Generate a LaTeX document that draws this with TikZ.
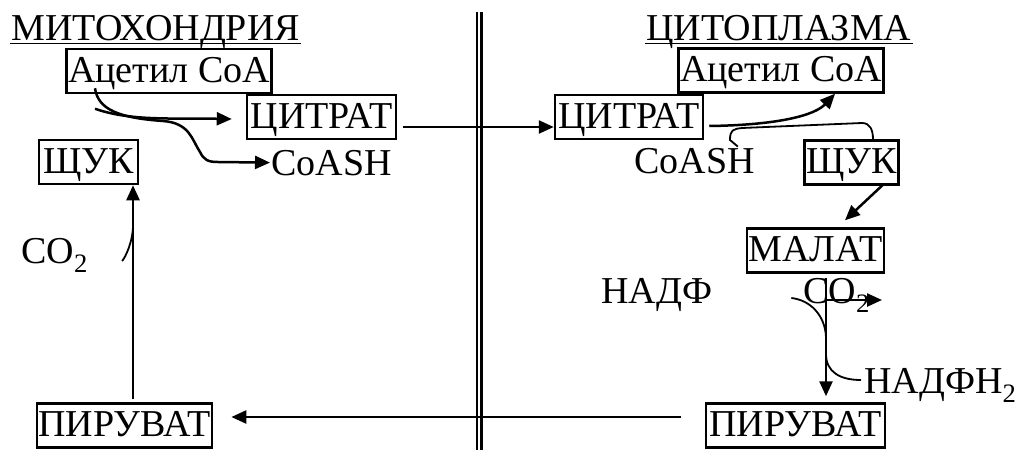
\documentclass[tikz,border=0pt]{standalone}
\usepackage{fontspec}
\setmainfont{Liberation Serif}
\usetikzlibrary{arrows.meta, calc}

\begin{document}
\begin{tikzpicture}[x=1pt, y=-1pt, line width=2.5pt,
        every node/.style={font=\fontsize{38}{44}\selectfont, inner sep=0pt},
        box/.style={draw, inner xsep=1.5pt, inner ysep=2pt, text height=31pt, text depth=9pt},
        lbl/.style={anchor=base west},
        react/.style={-{Triangle[length=15pt, width=13pt]}},
        side/.style={line width=1.8pt}]
\useasboundingbox (0,0) rectangle (1018,450);

% membrane
\draw (477,12) -- (477,450);
\draw (481.5,12) -- (481.5,450);

\node[lbl] (mito) at (10,40) {МИТОХОНДРИЯ};
\node[lbl] (cyto) at (645,40) {ЦИТОПЛАЗМА};
\draw[line width=1.6pt] ($(mito.base west)+(0,3.5)$) -- ($(mito.base east)+(0,3.5)$);
\draw[line width=1.6pt] ($(cyto.base west)+(0,3.5)$) -- ($(cyto.base east)+(0,3.5)$);

% mitochondria
\node[box] (acoaL) at (169,71) {Ацетил CoA};
\node[box, minimum width=149pt] (citL) at (321.5,117) {ЦИТРАТ};
\node[box, minimum width=99pt] (oaaL) at (88.5,162) {ЩУК};
\node[box] (pyrL) at (124.5,425.5) {ПИРУВАТ};
\node[lbl] (coashL) at (270,175) {CoASH};
\node[lbl] (co2L) at (20,263) {CO\textsubscript{2}};

% cytoplasm
\node[box] (acoaR) at (781,70.5) {Ацетил CoA};
\node[box, minimum width=148pt] (citR) at (629,117) {ЦИТРАТ};
\node[lbl] (coashR) at (633,173) {CoASH};
\node[box] (oaaR) at (851.5,162.5) {ЩУК};
\node[box, minimum width=137pt] (malR) at (815.5,250.5) {МАЛАТ};
\node[lbl] (nadp) at (600,303) {НАДФ};
\node[lbl] (co2R) at (802,303) {CO\textsubscript{2}};
\node[lbl] (nadph) at (863,393) {НАДФН\textsubscript{2}};
\node[box, minimum width=179pt] (pyrR) at (795.5,425.5) {ПИРУВАТ};

\coordinate (j1) at (133,225);
\coordinate (j2) at (826,337);
\coordinate (j3) at (826,354);
\coordinate (j4) at (826,300);
\coordinate (co2out) at (882,300);

\draw[react] ($(acoaL.south)+(-74,-6)$) .. controls (98,110) and (120,118) .. (163,121)
    .. controls (190,123) and (192,140) .. (200,152)
    .. controls (204,160) and (208,162) .. (218,162) -- (coashL.west);
\draw[react] ($(oaaL.north)+(6.5,-30)$) .. controls (130,121) and (170,118) .. ($(citL.west)+(-14,2)$);
\draw[react] ($(pyrL.north)+(8.5,-3)$) -- (oaaL.south -| j1);
\draw[side] ($(co2L.base east)+(33,-2)$) .. controls (125,258) and (133,242) .. (j1);

\draw[react] ($(citL.east)+(6,10)$) -- ($(citR.west)+(0,10)$);
\draw[react] ($(pyrR.west)+(-24,-8.5)$) -- ($(pyrL.east)+(18,-8.5)$);

\draw[react] ($(citR.east)+(5,9)$) .. controls (780,125) and (815,115) .. ($(acoaR.south)+(54,0)$);
\draw[side] ($(coashR.north east)+(-18,0)$) -- (730,140) .. controls (730,130) and (733,129) .. (742,128)
    -- (862,123) .. controls (870,123) and (873,130) .. ($(oaaR.north)+(21.5,0)$);
\draw[react] ($(oaaR.south)+(31.5,-1)$) -- ($(malR.north)+(29.5,-7)$);
\draw[react] ($(malR.south)+(10.5,4)$) -- ($(pyrR.north)+(30.5,-6)$);
\draw[side] ($(nadp.base east)+(78,-5)$) .. controls (810,300) and (825,315) .. (j2);
\draw[react] (j4) -- (co2out);
\draw[side] (j3) .. controls (826,372) and (840,380) .. ($(nadph.base west)+(-2,-13)$);
\end{tikzpicture}
\end{document}
